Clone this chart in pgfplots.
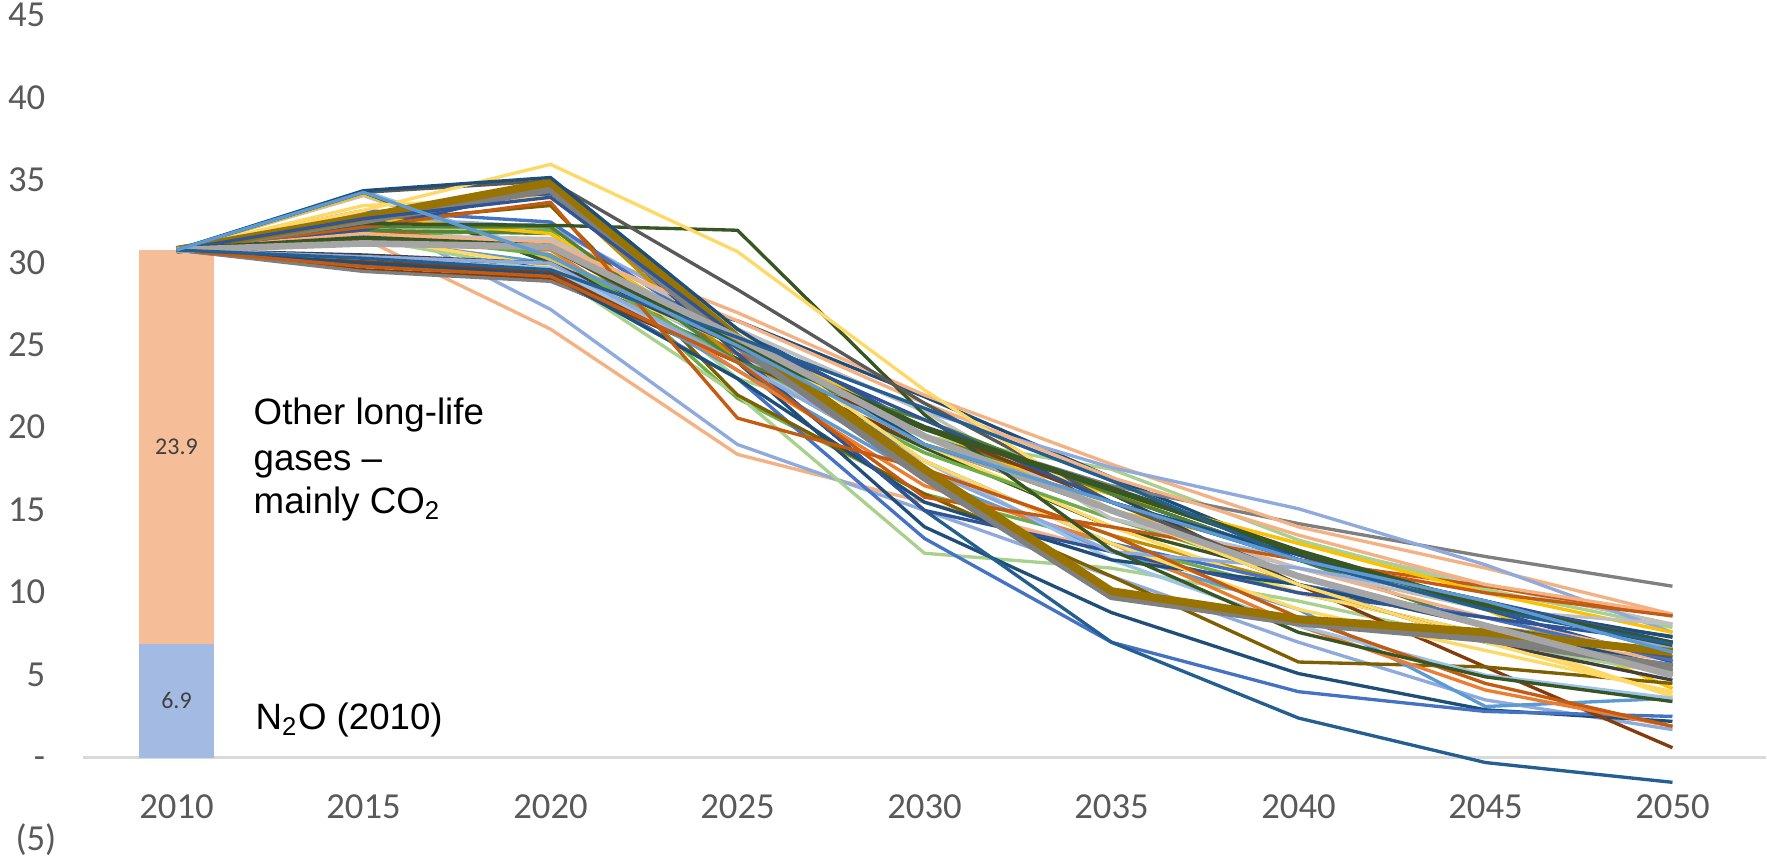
\documentclass[border=0pt]{standalone}
\usepackage{fontspec}
\setmainfont{Carlito}
\newfontfamily\arialf{Liberation Sans}
\usepackage{pgfplots}
\pgfplotsset{compat=1.18}

\definecolor{tickc}{HTML}{595959}
\definecolor{lblc}{HTML}{404040}
\definecolor{axisc}{HTML}{D9D9D9}
\definecolor{barorange}{HTML}{F5BE98}
\definecolor{barblue}{HTML}{A3BAE2}
\definecolor{navy}{HTML}{1F4E79}
\definecolor{dblue}{HTML}{2F5597}
\definecolor{mblue}{HTML}{4472C4}
\definecolor{lblue}{HTML}{8FAADC}
\definecolor{sky}{HTML}{9DC3E6}
\definecolor{steel}{HTML}{5B9BD5}
\definecolor{dsteel}{HTML}{255E91}
\definecolor{mbrown}{HTML}{843C0C}
\definecolor{burnt}{HTML}{C55A11}
\definecolor{morange}{HTML}{ED7D31}
\definecolor{lorange}{HTML}{F4B183}
\definecolor{myellow}{HTML}{FFD966}
\definecolor{gold}{HTML}{FFC000}
\definecolor{dgold}{HTML}{BF9000}
\definecolor{molive}{HTML}{997300}
\definecolor{dolive}{HTML}{7F6000}
\definecolor{lgreen}{HTML}{A9D18E}
\definecolor{mgreen}{HTML}{70AD47}
\definecolor{dgreen}{HTML}{548235}
\definecolor{vdgreen}{HTML}{375623}
\definecolor{mgray}{HTML}{7F7F7F}
\definecolor{dgray}{HTML}{595959}
\definecolor{ddgray}{HTML}{404040}
\definecolor{lgray}{HTML}{BFBFBF}
\definecolor{pgray}{HTML}{A5A5A5}

% one scenario: style, then values for 2015 ... 2050 (all start at 30.8 in 2010)
\newcommand\scen[9]{\addplot[#1] coordinates {(0,30.8)(1,#2)(2,#3)(3,#4)(4,#5)(5,#6)(6,#7)(7,#8)(8,#9)};}

\begin{document}
\begin{tikzpicture}
\useasboundingbox (-24.9pt,-6pt) rectangle (505.2pt,252pt);
\begin{axis}[
  scale only axis, width=504.9pt, height=247.2pt,
  xmin=-0.5, xmax=8.5, ymin=-5, ymax=45,
  axis x line*=middle, axis y line*=left,
  y axis line style={draw=none},
  x axis line style={draw=axisc, line width=0.7pt},
  xtick={0,1,2,3,4,5,6,7,8},
  xticklabels={2010,2015,2020,2025,2030,2035,2040,2045,2050},
  ytick={-5,0,5,10,15,20,25,30,35,40,45},
  yticklabels={(5),-\phantom{)},5\phantom{)},10\phantom{)},15\phantom{)},20\phantom{)},25\phantom{)},30\phantom{)},35\phantom{)},40\phantom{)},45\phantom{)}},
  major tick length=0pt,
  tick label style={font=\fontsize{11}{13}\selectfont, text=tickc, inner sep=0pt},
  yticklabel style={anchor=east, xshift=-7.8pt},
  xticklabel style={anchor=north, yshift=-11pt},
  clip=false,
  every axis plot/.append style={line width=1pt, line join=round, no markers},
]
\addplot[ybar, bar width=22.5pt, bar shift=0pt, fill=barorange, draw=none] coordinates {(0,30.8)};
\addplot[ybar, bar width=22.5pt, bar shift=0pt, fill=barblue, draw=none] coordinates {(0,6.9)};
\node[font=\fontsize{7.2}{8}\selectfont, text=lblc] at (axis cs:0,18.85) {23.9};
\node[font=\fontsize{7.2}{8}\selectfont, text=lblc] at (axis cs:0,3.45) {6.9};

\scen{lgray}{34.1}{30.2}{25.0}{19.5}{16.0}{13.0}{10.5}{8.1}
\scen{sky}{34.4}{30.5}{24.5}{18.5}{14.5}{12.0}{9.5}{6.7}
\scen{gold}{34.2}{30.3}{25.5}{20.0}{15.0}{12.5}{9.0}{4.2}
\scen{vdgreen}{34.3}{30.0}{24.2}{18.8}{14.0}{11.0}{8.0}{5.0}
\scen{lorange}{31.5}{26.0}{18.4}{15.5}{12.5}{10.0}{7.5}{5.9}
\scen{lblue}{33.0}{27.2}{19.0}{15.0}{11.0}{7.0}{3.5}{1.7}
\scen{lgreen}{31.8}{32.3}{23.0}{19.5}{17.5}{13.2}{10.2}{7.9}
\scen{mgreen}{31.7}{32.0}{21.8}{16.0}{13.0}{10.0}{7.5}{5.3}
\scen{navy}{30.2}{29.8}{26.5}{21.9}{17.0}{12.3}{9.0}{7.35}
\scen{lgreen}{31.5}{29.5}{22.0}{12.4}{11.5}{9.5}{7.0}{5.1}
\scen{navy}{30.0}{29.0}{24.0}{14.0}{8.8}{5.1}{2.9}{2.2}
\scen{mblue}{30.0}{29.5}{23.0}{13.3}{7.0}{4.0}{2.8}{2.5}
\scen{dsteel}{30.2}{29.3}{24.5}{15.0}{7.0}{2.4}{-0.3}{-1.5}
\scen{mbrown}{29.6}{29.0}{24.0}{19.0}{15.0}{10.5}{5.5}{0.6}
\scen{mgray}{29.5}{28.9}{24.5}{20.0}{16.5}{14.2}{12.2}{10.4}
\scen{lorange}{31.3}{31.5}{27.0}{22.0}{17.8}{14.0}{11.5}{8.7}
\scen{lblue}{32.8}{32.2}{26.0}{21.0}{17.6}{15.1}{11.7}{7.6}
\scen{burnt}{32.0}{31.0}{24.5}{19.5}{16.0}{12.0}{10.4}{8.6}
\scen{dolive}{32.5}{33.5}{22.0}{16.0}{11.0}{5.8}{5.5}{4.5}
\scen{dgold}{33.0}{34.5}{24.0}{17.5}{13.5}{10.5}{8.0}{6.4}
\scen{dgreen}{32.0}{31.8}{25.0}{19.5}{16.0}{12.0}{8.0}{5.3}
\scen{steel}{31.5}{30.0}{23.5}{17.0}{12.5}{9.0}{3.1}{3.6}
\scen{morange}{31.2}{30.8}{23.5}{16.5}{13.0}{8.0}{4.1}{1.9}
\scen{myellow}{31.6}{29.8}{25.0}{19.0}{14.0}{10.0}{7.5}{3.7}
\scen{pgray}{31.4}{31.2}{25.5}{19.0}{15.0}{11.0}{8.0}{5.0}
\scen{dblue}{32.5}{34.2}{26.0}{20.0}{16.0}{12.0}{9.0}{5.8}
\scen{ddgray}{30.5}{30.0}{25.0}{20.0}{16.0}{10.5}{7.0}{4.7}
\scen{lorange}{31.5}{31.3}{25.5}{19.5}{15.0}{11.5}{8.5}{6.1}
\scen{mgreen}{31.8}{30.5}{24.0}{18.5}{14.5}{11.0}{8.0}{5.2}
\scen{mblue}{33.2}{32.5}{25.0}{18.0}{13.0}{10.5}{8.5}{5.9}
\scen{gold}{32.8}{31.8}{25.0}{19.0}{16.0}{13.0}{10.0}{7.6}
\scen{lgray}{31.7}{31.5}{26.0}{21.0}{14.5}{11.5}{9.0}{8.1}
\scen{mbrown}{30.1}{29.5}{24.0}{20.0}{15.5}{12.0}{9.5}{6.6}
\scen{sky}{30.3}{29.7}{24.0}{18.0}{12.0}{8.0}{5.0}{3.6}
\scen{navy}{30.0}{29.3}{23.0}{15.5}{12.0}{10.5}{8.0}{5.5}
\scen{dblue}{32.0}{34.6}{24.5}{15.0}{12.5}{10.0}{8.5}{7.0}
\scen{dgreen}{32.2}{32.2}{24.0}{20.5}{16.0}{12.0}{9.0}{7.0}
\scen{lorange}{31.8}{31.2}{26.5}{21.5}{17.0}{13.5}{10.5}{8.7}
\scen{myellow}{33.5}{34.0}{26.0}{18.0}{13.0}{9.0}{6.5}{4.0}
\scen{lblue}{30.4}{30.0}{24.0}{17.5}{12.5}{11.5}{9.5}{6.6}
\scen{burnt}{29.8}{29.2}{24.0}{15.8}{14.0}{12.0}{10.0}{8.6}
\scen{burnt}{32.2}{33.7}{20.6}{17.5}{13.5}{8.5}{4.5}{1.9}
\scen{vdgreen}{32.4}{32.3}{32.0}{20.8}{12.6}{7.6}{4.9}{3.4}
\scen{dgray}{34.3}{35.0}{28.4}{21.5}{15.5}{11.0}{8.0}{6.1}
\scen{myellow}{33.2}{36.0}{30.7}{22.3}{15.0}{10.5}{7.0}{3.9}
\scen{mgray, line width=2.4pt}{32.6}{34.5}{25.0}{17.0}{9.8}{8.2}{7.2}{5.5}
\scen{molive, line width=2.4pt}{32.8}{34.9}{25.5}{17.5}{10.1}{8.4}{7.6}{6.4}
\scen{navy}{34.4}{35.2}{26.0}{19.0}{15.5}{12.3}{9.3}{7.3}
\scen{dblue}{32.7}{34.0}{25.5}{20.5}{15.5}{12.0}{9.5}{7.0}
\scen{vdgreen, line width=1.8pt}{31.5}{31.0}{25.0}{20.0}{16.3}{12.5}{9.2}{6.9}
\scen{pgray, line width=2pt}{31.2}{31.0}{25.5}{19.5}{15.0}{11.0}{8.0}{5.0}
\scen{dsteel}{30.3}{29.6}{25.5}{21.2}{16.8}{12.0}{9.0}{6.9}
\scen{steel}{34.3}{30.4}{25.0}{19.0}{15.5}{12.0}{9.5}{6.4}

\node[anchor=base west, font=\arialf\fontsize{11}{13}\selectfont] at (axis cs:0.35,20.2) {Other long-life};
\node[anchor=base west, font=\arialf\fontsize{11}{13}\selectfont] at (axis cs:0.35,17.45) {gases –};
\node[anchor=base west, font=\arialf\fontsize{11}{13}\selectfont] at (axis cs:0.35,14.8) {mainly CO\textsubscript{2}};
\node[anchor=base west, font=\arialf\fontsize{11}{13}\selectfont] at (axis cs:0.36,1.7) {N\textsubscript{2}O (2010)};
\end{axis}
\end{tikzpicture}
\end{document}
